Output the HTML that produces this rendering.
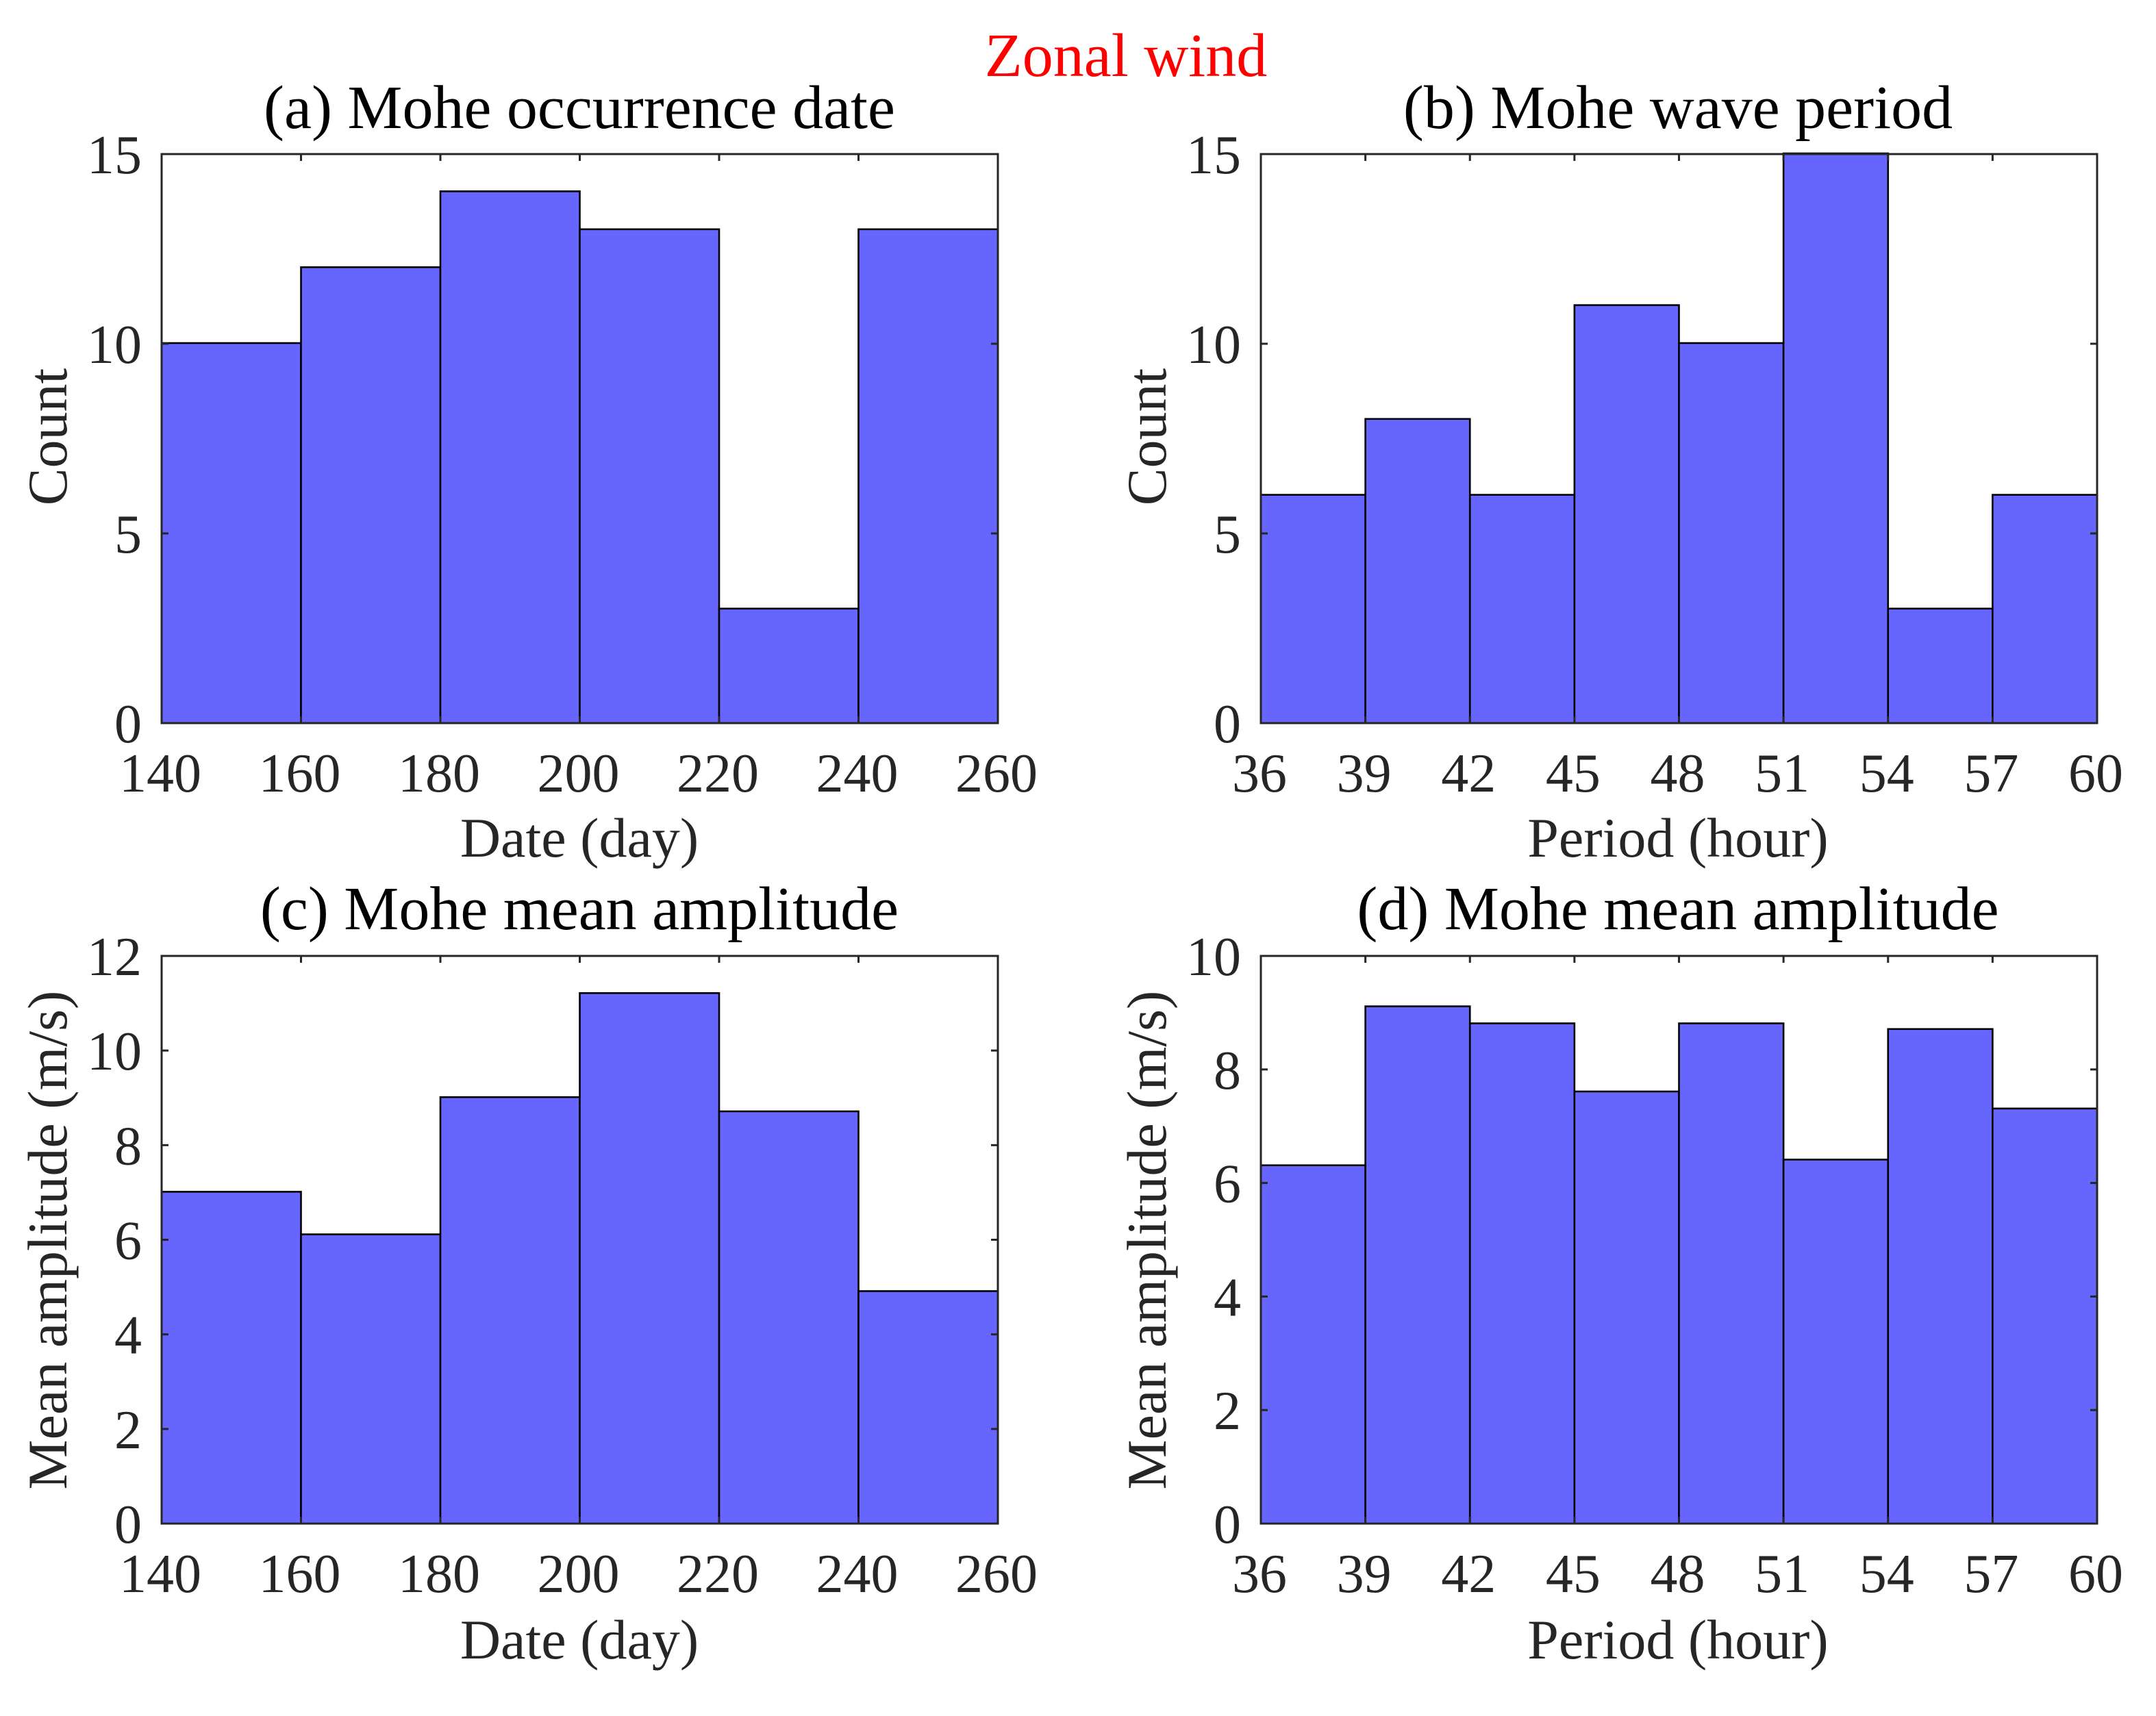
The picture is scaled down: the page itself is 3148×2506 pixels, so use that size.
<!DOCTYPE html>
<html lang="en">
<head>
<meta charset="utf-8">
<title>Zonal wind histograms</title>
<style>
html,body{margin:0;padding:0;background:#fff;}
svg{display:block;}
text{font-family:"Liberation Serif",serif;}
.tk{font-size:80px;fill:#262626;}
.lb{font-size:82px;fill:#262626;text-anchor:middle;}
.ti{font-size:90px;fill:#000;text-anchor:middle;}
</style>
</head>
<body>
<svg id="fig" xmlns="http://www.w3.org/2000/svg" width="3148" height="2506" viewBox="0 0 3148 2506">
  <rect x="0" y="0" width="3148" height="2506" fill="#fff"/>
  <text x="1644" y="111" font-size="90" fill="#ff0000" text-anchor="middle">Zonal wind</text>

  <text class="ti" x="846" y="187">(a) Mohe occurrence date</text>
  <text class="ti" x="2450" y="187">(b) Mohe wave period</text>
  <text class="ti" x="846" y="1357">(c) Mohe mean amplitude</text>
  <text class="ti" x="2450" y="1357">(d) Mohe mean amplitude</text>

  <text class="lb" x="846" y="1251">Date (day)</text>
  <text class="lb" x="2450" y="1251">Period (hour)</text>
  <text class="lb" x="846" y="2422">Date (day)</text>
  <text class="lb" x="2450" y="2422">Period (hour)</text>

  <text class="lb" transform="translate(97 638) rotate(-90)">Count</text>
  <text class="lb" transform="translate(1702 638) rotate(-90)">Count</text>
  <text class="lb" transform="translate(97 1811) rotate(-90)">Mean amplitude (m/s)</text>
  <text class="lb" transform="translate(1702 1811) rotate(-90)">Mean amplitude (m/s)</text>
</svg>
<script>
const dateEdges = [140, 160, 180, 200, 220, 240, 260];
const periodEdges = [36, 39, 42, 45, 48, 51, 54, 57, 60];
const countTicks = [0, 5, 10, 15];
const ampTicksC = [0, 2, 4, 6, 8, 10, 12];
const ampTicksD = [0, 2, 4, 6, 8, 10];
const countsA = [10, 12, 14, 13, 3, 13];
const countsB = [6, 8, 6, 11, 10, 15, 3, 6];
const amplitudeC = [7, 6.1, 9, 11.2, 8.7, 4.9];
const amplitudeD = [6.3, 9.1, 8.8, 7.6, 8.8, 6.4, 8.7, 7.3];

const NS = 'http://www.w3.org/2000/svg';
const fig = document.getElementById('fig');

function mk(tag, attrs, parent) {
  const el = document.createElementNS(NS, tag);
  for (const k in attrs) el.setAttribute(k, attrs[k]);
  parent.appendChild(el);
  return el;
}

function panel(id, box, edges, values, yTicks) {
  const xMin = edges[0], xMax = edges[edges.length - 1];
  const yMin = yTicks[0], yMax = yTicks[yTicks.length - 1];
  const sx = v => box.left + (v - xMin) / (xMax - xMin) * (box.right - box.left);
  const sy = v => box.bottom - (v - yMin) / (yMax - yMin) * (box.bottom - box.top);

  const g = mk('g', {}, fig);
  
  

  values.forEach((v, i) => {
    const bar = mk('rect', {
      x: sx(edges[i]), y: sy(v) - 1,
      width: sx(edges[i + 1]) - sx(edges[i]),
      height: box.bottom - sy(v) + 1,
      fill: '#6666ff', stroke: '#000', 'stroke-width': 2.6
    }, g);
    
    
  });

  const frame = mk('rect', {
    x: box.left, y: box.top,
    width: box.right - box.left, height: box.bottom - box.top,
    fill: 'none', stroke: '#262626', 'stroke-width': 3
  }, g);
  
  

  edges.forEach(v => {
    const x = sx(v);
    [[box.bottom, box.bottom - 10], [box.top, box.top + 10]].forEach(p => {
      const t = mk('line', {x1: x, x2: x, y1: p[0], y2: p[1], stroke: '#262626', 'stroke-width': 3}, g);
      
      
    });
    const label = mk('text', {class: 'tk', x: x - 2, y: box.bottom + 100, 'text-anchor': 'middle'}, g);
    label.textContent = String(v);
    
    
  });

  yTicks.forEach(v => {
    const y = sy(v);
    [[box.left, box.left + 10], [box.right, box.right - 10]].forEach(p => {
      const t = mk('line', {x1: p[0], x2: p[1], y1: y, y2: y, stroke: '#262626', 'stroke-width': 3}, g);
      
      
    });
    const label = mk('text', {class: 'tk', x: box.left - 29, y: y + 28, 'text-anchor': 'end'}, g);
    label.textContent = String(v);
    
    
  });
}

panel('a', {left: 236, right: 1457, top: 225, bottom: 1056}, dateEdges, countsA, countTicks);
panel('b', {left: 1841, right: 3062, top: 225, bottom: 1056}, periodEdges, countsB, countTicks);
panel('c', {left: 236, right: 1457, top: 1396, bottom: 2225}, dateEdges, amplitudeC, ampTicksC);
panel('d', {left: 1841, right: 3062, top: 1396, bottom: 2225}, periodEdges, amplitudeD, ampTicksD);
</script>
</body>
</html>
